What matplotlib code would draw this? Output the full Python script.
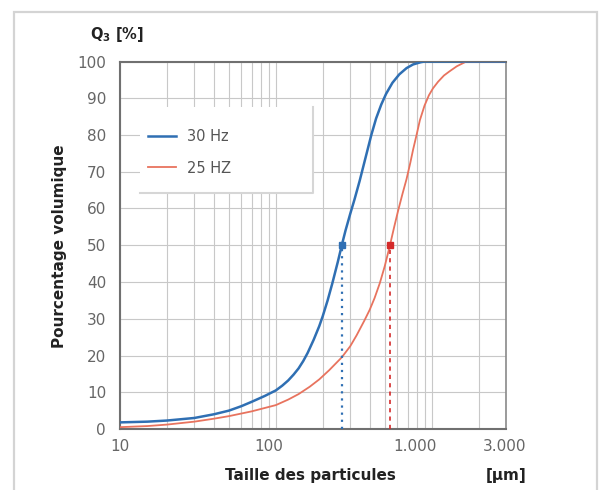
import matplotlib
matplotlib.use('Agg')
import matplotlib.pyplot as plt
from matplotlib.patches import Rectangle
from matplotlib.ticker import LogLocator, NullFormatter, FixedLocator
import matplotlib.transforms as mtrans

# ---- data ----
size_30 = [10, 15, 20, 30, 40, 50, 60, 70, 85, 100, 110, 120, 130, 140, 150, 160, 175, 190, 200,
           215, 230, 250, 265, 280, 300, 320, 345, 380, 410, 440, 475, 510, 560, 620, 690, 760,
           850, 900, 3000]
q3_30 = [1.8, 2.0, 2.3, 3.0, 4.0, 5.0, 6.2, 7.4, 9.0, 10.5, 11.8, 13.2, 14.8, 16.5, 18.5, 20.7,
         24.3, 28.0, 30.7, 35.0, 39.5, 45.5, 50.0, 54.0, 58.5, 62.5, 67.5, 74.5, 80.0, 84.5,
         88.3, 91.2, 94.2, 96.5, 98.2, 99.2, 99.8, 100.0, 100.0]

size_25 = [10, 15, 20, 30, 40, 50, 70, 100, 120, 140, 165, 190, 220, 265, 300, 330, 370, 400,
           430, 465, 500, 540, 575, 610, 650, 690, 730, 760, 800, 840, 900, 960, 1020, 1100, 1200,
           1300, 1450, 1670, 3000]
q3_25 = [0.5, 0.8, 1.2, 2.0, 2.8, 3.5, 4.8, 6.5, 8.0, 9.5, 11.5, 13.5, 16.0, 19.5, 22.5, 25.5,
         29.5, 32.4, 35.6, 39.7, 44.3, 50.0, 55.0, 59.5, 64.0, 68.0, 72.5, 76.0, 80.0, 84.0, 88.0,
         90.8, 92.7, 94.5, 96.2, 97.3, 98.7, 100.0, 100.0]

d50_30 = 265
d50_25 = 540
series_labels = ['30 Hz', '25 HZ']
x_ticks = [10, 100, 1000, 3000]
x_ticklabels = ['10', '100', '1.000', '3.000']
y_ticks = list(range(0, 101, 10))

blue = '#2f6fb3'
red = '#e8735e'
red_dark = '#d42a2a'

fig = plt.figure(figsize=(6.04, 4.9), dpi=100)
fig.patch.set_facecolor('white')

# outer frame
fig.patches.append(Rectangle((14 / 604, -0.02), (597 - 14) / 604, (490 - 12) / 490 + 0.02,
                             transform=fig.transFigure, fill=False,
                             edgecolor='#d4d4d4', lw=1.6, zorder=0))

L, R, B, T = 120, 506, 429, 61.5
ax = fig.add_axes([L / 604, (490 - B) / 490, (R - L) / 604, (B - T) / 490])
ax.set_xscale('log')
ax.set_xlim(10, 3000)
ax.set_ylim(0, 100)

ax.xaxis.set_major_locator(FixedLocator(x_ticks))
ax.set_xticklabels(x_ticklabels)
ax.xaxis.set_minor_locator(LogLocator(base=10, subs=range(2, 10)))
ax.xaxis.set_minor_formatter(NullFormatter())
ax.set_yticks(y_ticks)
ax.grid(which='both', color='#c8c8c8', lw=0.8)
ax.tick_params(which='both', length=0, labelsize=11, labelcolor='#666666')
ax.tick_params(axis='x', pad=7)
ax.tick_params(axis='y', pad=10)

# shift x tick labels like the reference
offsets = {'10': 0, '100': -7, '1.000': -17, '3.000': -1}
for lab, txt in zip(ax.get_xticklabels(), x_ticklabels):
    dx = offsets.get(txt, 0) / 100.0
    lab.set_transform(lab.get_transform() + mtrans.ScaledTranslation(dx, 0, fig.dpi_scale_trans))

for side in ['left', 'bottom', 'top']:
    ax.spines[side].set_color('#707070')
    ax.spines[side].set_linewidth(1.5)
ax.spines['right'].set_color('#8a8a8a')
ax.spines['right'].set_linewidth(1.2)

# legend box
ax.add_patch(Rectangle((0.052, 0.641), 0.448, 0.234, transform=ax.transAxes,
                       facecolor='white', edgecolor='none', zorder=2))
ax.plot([0.052, 0.5, 0.5], [0.641, 0.641, 0.875], transform=ax.transAxes,
        color='#d6d6d6', lw=1.5, zorder=2.1)

l30, = ax.plot(size_30, q3_30, color=blue, lw=1.8, zorder=4)
l25, = ax.plot(size_25, q3_25, color=red, lw=1.3, zorder=3)

# d50 markers
ax.plot([d50_30, d50_30], [0, 50], color=blue, lw=1.6, ls=(0, (1, 2.2)), zorder=4)
ax.plot([d50_25, d50_25], [0, 50], color=red_dark, lw=1.2, ls=(0, (2.5, 2.5)), zorder=4)
ax.plot([d50_30], [50], marker='s', ms=5, color=blue, zorder=5)
ax.plot([d50_25], [50], marker='s', ms=5, color=red_dark, zorder=5)

leg = ax.legend([l30, l25], series_labels, loc='upper left', bbox_to_anchor=(0.0725, 0.815),
                frameon=False, fontsize=10.5, labelcolor='#555555', handlelength=1.9,
                handletextpad=0.8, labelspacing=1.1, borderpad=0, borderaxespad=0)
leg.set_zorder(6)

# labels
fig.text(310 / 604, 1 - 475 / 490, 'Taille des particules', ha='center', va='center',
         fontsize=11, fontweight='bold', color='#222222')
fig.text(506 / 604, 1 - 475 / 490, '[µm]', ha='center', va='center',
         fontsize=11, fontweight='bold', color='#222222')
fig.text(60 / 604, 1 - 246 / 490, 'Pourcentage volumique', ha='center', va='center',
         rotation=90, fontsize=11, fontweight='bold', color='#222222')
fig.text(90 / 604, 1 - 35 / 490, r'Q$_\mathbf{3}$ [%]', ha='left', va='center',
         fontsize=10.5, fontweight='bold', color='#222222')

fig.savefig('out.png', dpi=100)
